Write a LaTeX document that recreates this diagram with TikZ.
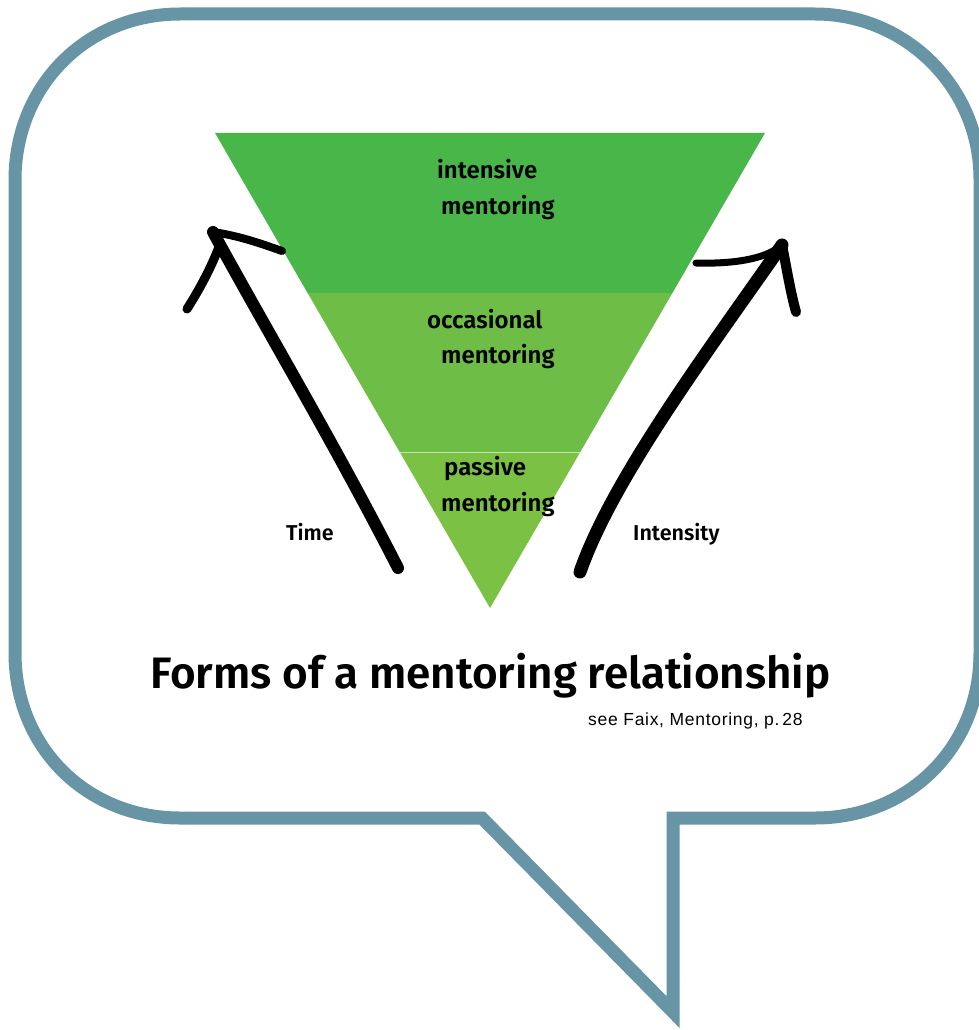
\documentclass[tikz,border=0pt]{standalone}
\usepackage{fontspec}
\setmainfont{Fira Sans}
\newfontfamily\firasb{Fira Sans}[UprightFont={* SemiBold}]
\newfontfamily\arialish{Liberation Sans}[LetterSpace=4]
\definecolor{bubblecol}{RGB}{103,149,165}
\definecolor{bandA}{RGB}{73,182,74}
\definecolor{bandB}{RGB}{109,189,70}
\definecolor{bandC}{RGB}{123,193,68}
\begin{document}
\begin{tikzpicture}[x=1pt,y=-1pt,
  bubble/.style={draw=bubblecol, line width=13pt, line join=miter, miter limit=20},
  brush/.style={draw=black, line width=#1, line cap=round, line join=round},
  lbl/.style={anchor=base west, inner sep=0pt, font=\firasb\fontsize{24}{28}\selectfont},
  axislbl/.style={anchor=base west, inner sep=0pt, font=\firasb\fontsize{21.5}{25}\selectfont},
  titlelbl/.style={anchor=base west, inner sep=0pt, font=\firasb\fontsize{44}{50}\selectfont},
  srclbl/.style={anchor=base west, inner sep=0pt, font=\arialish\fontsize{17.5}{20}\selectfont}]
\useasboundingbox (0,0) rectangle (978,1030);
\fill[white] (0,0) rectangle (978,1030);

% speech bubble
\draw[bubble] (482,818) -- (180,818)
  .. controls (86.1,818) and (15,746.9) .. (15,653)
  -- (15,180)
  .. controls (15,86.1) and (86.1,14) .. (180,14)
  -- (815,14)
  .. controls (906.1,14) and (980,87.9) .. (980,179)
  -- (980,653)
  .. controls (980,746.9) and (908.9,818) .. (815,818)
  -- (673,818) -- (673,1012) -- cycle;

% funnel
\fill[bandA] (215,133) -- (765,133) -- (672.4,293) -- (307.6,293) -- cycle;
\fill[bandB] (307.6,293) -- (672.4,293) -- (580.3,452) -- (399.7,452) -- cycle;
\fill[bandC] (399.7,452) -- (580.3,452) -- (490,608) -- cycle;
\draw[white!55!bandC, line width=1pt] (399.7,452) -- (580.3,452);

% left arrow
\coordinate (ltip) at (213,232);
\coordinate (lend) at (398,568);
\coordinate (lwingR) at (282,251);
\coordinate (lwingS) at (219,247);
\coordinate (lwingL) at (187,309);
\draw[brush=12pt] (ltip) .. controls (275,345) and (335,445) .. (lend);
\draw[brush=8pt] (ltip) .. controls (240,236) and (262,244) .. (lwingR);
\draw[brush=9pt] (lwingS) .. controls (210,270) and (199,290) .. (lwingL);

% right arrow
\coordinate (rtip) at (782,245);
\coordinate (rend) at (580,572);
\coordinate (rwingL) at (696,263);
\coordinate (rwingR) at (796,312);
\draw[brush=13pt] (rtip) .. controls (705,355) and (612,480) .. (rend);
\draw[brush=7pt] (rwingL) .. controls (730,264) and (765,260) .. (rtip);
\draw[brush=10pt] (rtip) .. controls (787,270) and (790,290) .. (rwingR);

% labels
\node[lbl] (int1) at (437,178) {intensive};
\node[lbl] (int2) at (441,214) {mentoring};
\node[lbl] (occ1) at (427,328) {occasional};
\node[lbl] (occ2) at (441,363) {mentoring};
\node[lbl] (pas1) at (444,475) {passive};
\node[lbl] (pas2) at (441,511) {mentoring};
\node[axislbl] (time) at (286,540) {Time};
\node[axislbl] (intens) at (633,540) {Intensity};
\node[titlelbl] (title) at (150,688) {Forms of a mentoring relationship};
\node[srclbl] (src) at (588,725) {see Faix, Mentoring, p.\,28};
\end{tikzpicture}
\end{document}
